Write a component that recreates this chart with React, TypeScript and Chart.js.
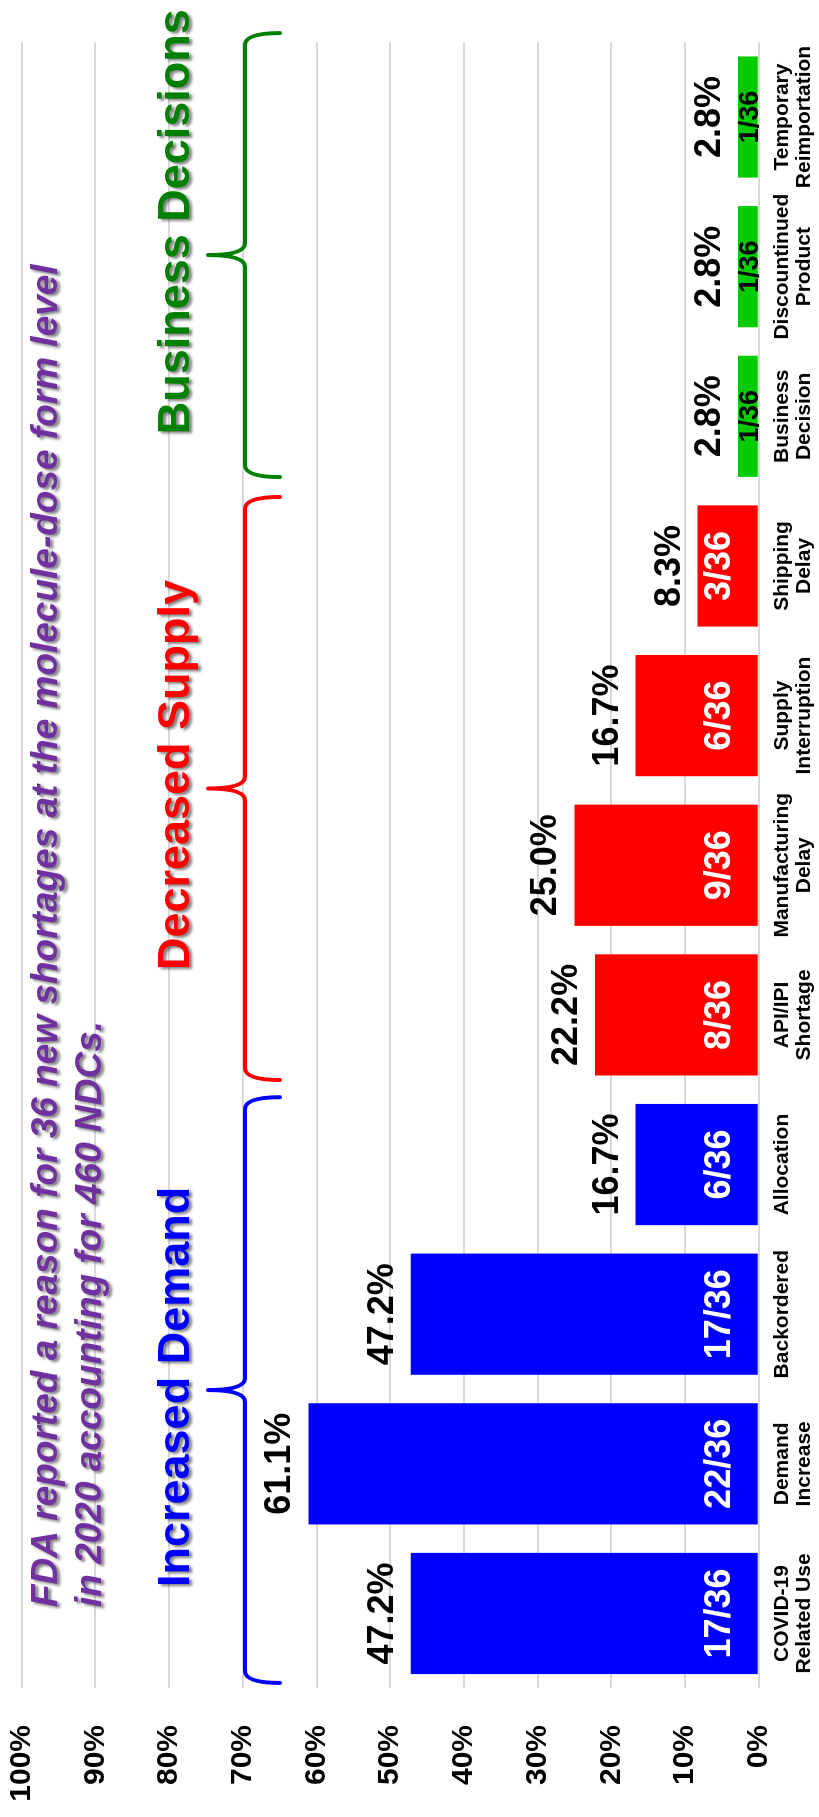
import React, { useEffect, useRef } from "react";
import { Chart, registerables } from "chart.js";

Chart.register(...registerables);

const FONT = '"Liberation Sans", Arial, sans-serif';

const categories: string[][] = [
  ["COVID-19", "Related Use"],
  ["Demand", "Increase"],
  ["Backordered"],
  ["Allocation"],
  ["API/IPI", "Shortage"],
  ["Manufacturing", "Delay"],
  ["Supply", "Interruption"],
  ["Shipping", "Delay"],
  ["Business", "Decision"],
  ["Discountinued", "Product"],
  ["Temporary", "Reimportation"],
];

const percentValues = [47.2, 61.1, 47.2, 16.7, 22.2, 25.0, 16.7, 8.3, 2.8, 2.8, 2.8];
const fractionLabels = ["17/36", "22/36", "17/36", "6/36", "8/36", "9/36", "6/36", "3/36", "1/36", "1/36", "1/36"];
const groupOf = [0, 0, 0, 0, 1, 1, 1, 1, 2, 2, 2];

const groupNames = ["Increased Demand", "Decreased Supply", "Business Decisions"];
const groupTextColors = ["#0000FF", "#FF0000", "#008000"];
const barColors = ["#0000FF", "#FF0000", "#00CC00"];
// brace spans expressed in category-index units
const braceStart = [-0.464, 3.565, 7.594];
const braceEnd = [3.45, 7.461, 10.561];
const groupLabelCenter = [1.514, 5.603, 9.3];

const yTicks = [0, 10, 20, 30, 40, 50, 60, 70, 80, 90, 100];

const titleLines = [
  "FDA reported a reason for 36 new shortages at the molecule-dose form level",
  "in 2020 accounting for 460 NDCs.",
];

const W = 1817;
const H = 819;

const annotPlugin = {
  id: "annot",
  afterDraw(chart: any) {
    const ctx: CanvasRenderingContext2D = chart.ctx;
    const xs = chart.scales.x;
    const ys = chart.scales.y;
    const meta = chart.getDatasetMeta(0);
    const p0 = xs.getPixelForValue(0);
    const step = xs.getPixelForValue(1) - p0;
    const catPx = (f: number) => p0 + f * step;
    const base = ys.getPixelForValue(0);

    ctx.save();
    ctx.textAlign = "center";
    ctx.textBaseline = "alphabetic";
    meta.data.forEach((bar: any, i: number) => {
      ctx.font = `bold 36px ${FONT}`;
      ctx.fillStyle = "#000";
      ctx.fillText(percentValues[i].toFixed(1) + "%", bar.x, bar.y - 18);
      if (groupOf[i] === 2) {
        ctx.font = `bold 27px ${FONT}`;
        ctx.fillStyle = "#000";
        ctx.fillText(fractionLabels[i], bar.x, base - 1);
      } else {
        ctx.font = `bold 36px ${FONT}`;
        ctx.fillStyle = "#fff";
        ctx.fillText(fractionLabels[i], bar.x, base - 29);
      }
    });

    // braces
    const Y0 = 245, Y1 = 280, Y2 = 208, r = 12;
    ctx.lineWidth = 4;
    ctx.lineCap = "round";
    ctx.lineJoin = "round";
    for (let g = 0; g < 3; g++) {
      const a = catPx(braceStart[g]);
      const b = catPx(braceEnd[g]);
      const m = (a + b) / 2;
      ctx.strokeStyle = groupTextColors[g];
      ctx.beginPath();
      ctx.moveTo(a, Y1);
      ctx.quadraticCurveTo(a, Y0, a + r, Y0);
      ctx.lineTo(m - r, Y0);
      ctx.quadraticCurveTo(m, Y0, m, Y2);
      ctx.quadraticCurveTo(m, Y0, m + r, Y0);
      ctx.lineTo(b - r, Y0);
      ctx.quadraticCurveTo(b, Y0, b, Y1);
      ctx.stroke();
    }

    // group labels with shadow
    ctx.shadowColor = "rgba(0,0,0,0.5)";
    ctx.shadowOffsetX = -2;
    ctx.shadowOffsetY = 3;
    ctx.shadowBlur = 3;
    ctx.font = `bold 45px ${FONT}`;
    ctx.textAlign = "center";
    for (let g = 0; g < 3; g++) {
      ctx.fillStyle = groupTextColors[g];
      ctx.fillText(groupNames[g], catPx(groupLabelCenter[g]), 189);
    }

    // title
    ctx.font = `italic bold 37px ${FONT}`;
    ctx.textAlign = "left";
    ctx.fillStyle = "#7030A0";
    ctx.fillText(titleLines[0], 210, 57);
    ctx.fillText(titleLines[1], 210, 101);
    ctx.restore();
  },
};

export default function App() {
  const ref = useRef<HTMLCanvasElement>(null);
  useEffect(() => {
    const canvas = ref.current!;
    const chart = new Chart(canvas, {
      type: "bar",
      data: {
        labels: categories,
        datasets: [
          {
            data: percentValues,
            backgroundColor: groupOf.map((g) => barColors[g]),
            categoryPercentage: 1,
            barPercentage: 0.81,
          },
        ],
      },
      options: {
        responsive: false,
        animation: false,
        devicePixelRatio: 1,
        layout: { padding: { top: 21.7, right: 42.2, left: 0, bottom: 0 } },
        plugins: { legend: { display: false }, tooltip: { enabled: false }, title: { display: false } },
        scales: {
          x: {
            grid: { display: false },
            border: { display: false },
            ticks: {
              color: "#000",
              font: { family: FONT, size: 21, weight: "bold", lineHeight: 1.05 },
              padding: 4,
              maxRotation: 0,
              autoSkip: false,
            },
            afterFit: (s: any) => {
              s.height = 60.3;
              s.paddingLeft = 0;
              s.paddingRight = 0;
            },
          },
          y: {
            min: 0,
            max: 100,
            afterBuildTicks: (s: any) => {
              s.ticks = yTicks.map((v) => ({ value: v }));
            },
            grid: { color: "#d9d9d9", lineWidth: 2, drawTicks: false },
            border: { display: false },
            ticks: {
              color: "#000",
              font: { family: FONT, size: 30, weight: "bold" },
              padding: 36.7,
              callback: (v: any) => `${v}%`,
            },
            afterFit: (s: any) => {
              s.width = 128.7;
              s.paddingTop = 0;
              s.paddingBottom = 0;
            },
          },
        },
      } as any,
      plugins: [annotPlugin],
    });
    return () => chart.destroy();
  }, []);
  return (
    <canvas
      ref={ref}
      width={W}
      height={H}
      style={{
        position: "absolute",
        left: 0,
        top: 0,
        width: `${W}px`,
        height: `${H}px`,
        transformOrigin: "0 0",
        transform: `translate(0px, ${W}px) rotate(-90deg)`,
      }}
    />
  );
}
